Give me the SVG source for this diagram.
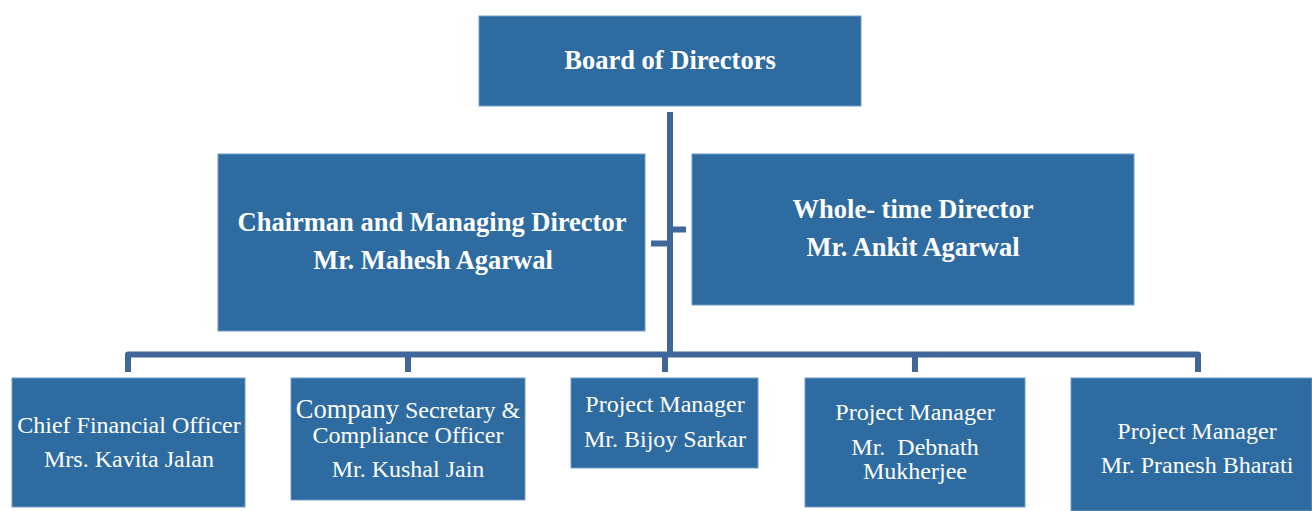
<svg xmlns="http://www.w3.org/2000/svg" width="1312" height="511" viewBox="0 0 1312 511">
<style>
.box{fill:#2E6BA0;stroke:#6F9CC8;stroke-width:1}
text{font-family:'Liberation Serif','Times New Roman',Times,'DejaVu Serif',serif;fill:#fff;text-anchor:middle;white-space:pre}
.b{font-weight:bold;font-size:26.5px}
.r{font-size:24px}
.c{fill:none;stroke:#41679A;stroke-width:6}
</style>
<rect width="1312" height="511" fill="#fff"/>
<g id="connectors">
<path class="c" d="M670 112V355"/>
<path class="c" d="M651 243.5H670"/>
<path class="c" d="M670 229.5H686"/>
<path class="c" d="M128 372V354.5H1198V372" stroke-linejoin="round"/>
<path class="c" d="M408 354.5V372M665 354.5V372M915 354.5V372"/>
</g>
<g id="board"><rect class="box" x="479" y="16" width="382" height="90"/><text class="b" x="670" y="69">Board of Directors</text></g>
<g id="chairman"><rect class="box" x="218" y="154" width="427" height="177"/><text class="b" x="432" y="231">Chairman and Managing Director</text><text class="b" x="433" y="269">Mr. Mahesh Agarwal</text></g>
<g id="wtd"><rect class="box" x="692" y="154" width="442" height="151"/><text class="b" x="913" y="218">Whole- time Director</text><text class="b" x="913" y="256">Mr. Ankit Agarwal</text></g>
<g id="cfo"><rect class="box" x="12" y="378" width="233" height="129"/><text class="r" x="129" y="433">Chief Financial Officer</text><text class="r" x="129" y="467">Mrs. Kavita Jalan</text></g>
<g id="cs"><rect class="box" x="291" y="378" width="234" height="122"/><text class="r" x="408" y="418"><tspan font-size="26.5">Company</tspan> Secretary &amp;</text><text class="r" x="408" y="443">Compliance Officer</text><text class="r" x="408" y="477">Mr. Kushal Jain</text></g>
<g id="pm1"><rect class="box" x="571" y="378" width="187" height="90"/><text class="r" x="665" y="412">Project Manager</text><text class="r" x="665" y="447">Mr. Bijoy Sarkar</text></g>
<g id="pm2"><rect class="box" x="805" y="378" width="220" height="129"/><text class="r" x="915" y="420">Project Manager</text><text class="r" x="915" y="455" xml:space="preserve">Mr.  Debnath</text><text class="r" x="915" y="479">Mukherjee</text></g>
<g id="pm3"><rect class="box" x="1071" y="378" width="241" height="133"/><text class="r" x="1197" y="439">Project Manager</text><text class="r" x="1197" y="473">Mr. Pranesh Bharati</text></g>
</svg>
